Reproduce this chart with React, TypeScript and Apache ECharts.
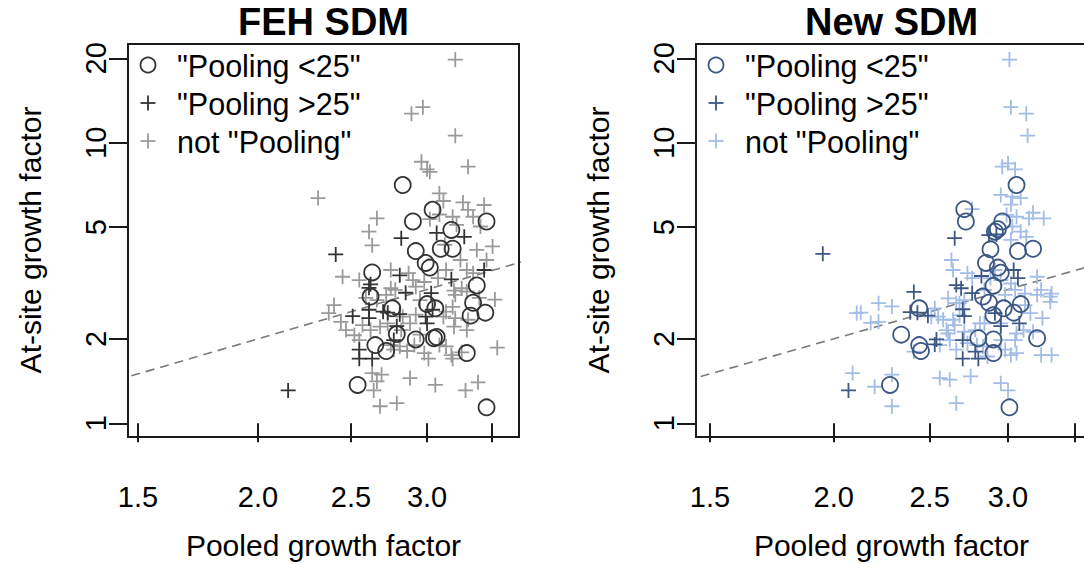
import React, { useEffect, useRef } from "react";
import * as echarts from "echarts";

const FONT = '"Liberation Sans", Arial, Helvetica, sans-serif';

// Each point: [pooled growth factor, at-site growth factor]
const fehPoolingUnder25: number[][] = [
  [2.83, 7.07], [3.04, 5.77], [2.9, 5.24], [3.46, 5.24], [3.18, 4.89], [2.92, 4.11], [3.1, 4.19],
  [3.19, 4.19], [2.99, 3.73], [3.02, 3.59], [2.63, 3.45], [3.38, 3.1], [2.62, 2.83], [2.76, 2.57],
  [3.0, 2.66], [3.06, 2.57], [3.35, 2.69], [3.33, 2.42], [3.45, 2.48], [2.79, 2.08], [2.92, 1.99],
  [3.05, 2.01], [3.07, 2.03], [2.65, 1.9], [2.72, 1.81], [3.3, 1.78], [2.54, 1.37], [3.46, 1.14],
];

const fehPoolingOver25: number[][] = [
  [2.41, 4.0], [2.82, 4.57], [3.07, 4.77], [3.28, 4.62], [3.44, 3.52], [3.18, 3.26], [2.81, 3.37],
  [2.85, 2.92], [2.62, 3.13], [2.61, 3.04], [3.03, 2.91], [2.51, 2.41], [2.61, 2.54], [2.61, 2.37],
  [2.7, 2.5], [2.73, 2.48], [3.04, 2.54], [3.0, 2.27], [2.79, 2.22], [2.77, 1.98], [2.55, 1.83],
  [2.55, 1.7], [2.63, 1.7], [2.15, 1.31], [2.81, 2.45], [2.99, 2.4],
];

const fehNotPooling: number[][] = [
  [3.21, 19.8], [2.89, 12.7], [2.97, 13.4], [3.21, 10.6], [2.96, 8.56], [3.0, 8.04], [3.02, 7.88],
  [3.31, 8.22], [2.31, 6.35], [3.09, 6.6], [3.12, 6.2], [3.27, 6.13], [3.31, 5.77], [2.66, 5.38],
  [2.61, 4.82], [2.63, 4.31], [3.19, 5.45], [3.02, 5.34], [3.35, 5.45], [3.41, 5.03], [3.51, 4.27],
  [3.46, 3.82], [3.25, 3.82], [3.3, 3.52], [3.14, 3.52], [3.35, 3.43], [2.45, 3.33], [2.55, 3.24],
  [2.75, 3.52], [2.87, 3.43], [2.9, 3.24], [2.75, 3.03], [2.92, 3.07], [3.2, 2.97], [3.21, 2.87],
  [3.26, 3.03], [3.3, 2.95], [3.53, 2.76], [3.19, 2.6], [3.14, 2.5], [2.37, 2.47], [2.44, 2.3],
  [2.47, 2.15], [2.52, 2.06], [2.68, 2.21], [2.73, 2.27], [2.83, 2.4], [2.82, 2.15], [2.88, 2.27],
  [2.92, 2.44], [2.66, 2.75], [3.12, 2.4], [3.3, 2.15], [3.2, 2.21], [3.21, 2.37], [2.81, 1.88],
  [2.86, 1.81], [2.98, 1.78], [3.01, 1.7], [3.09, 1.9], [3.14, 1.88], [3.18, 1.75], [3.19, 1.7],
  [3.26, 1.79], [3.55, 1.86], [2.77, 1.83], [2.63, 1.51], [2.69, 1.49], [2.66, 1.41], [2.88, 1.45],
  [3.06, 1.37], [3.39, 1.4], [3.29, 1.31], [2.64, 1.31], [2.68, 1.15], [2.79, 1.18], [2.4, 2.64],
  [2.57, 2.24], [2.55, 1.98], [2.59, 2.8], [2.72, 2.87], [2.78, 2.99], [2.95, 2.75], [2.98, 3.19],
  [3.08, 3.29], [3.4, 2.8], [3.31, 2.34], [2.91, 1.9], [2.95, 2.07], [2.62, 2.15], [2.75, 1.9],
  [3.38, 4.15], [3.13, 4.33], [3.22, 5.1], [3.44, 6.0], [3.09, 5.55],
];

const newPoolingUnder25: number[][] = [
  [3.06, 7.07], [2.71, 5.8], [2.72, 5.24], [2.96, 5.24], [2.93, 4.92], [2.91, 4.82], [2.88, 4.17],
  [3.07, 4.11], [3.18, 4.19], [2.85, 3.73], [2.93, 3.59], [2.95, 3.44], [2.9, 3.09], [2.83, 2.83],
  [2.87, 2.69], [2.97, 2.57], [3.09, 2.66], [3.04, 2.48], [2.9, 2.43], [2.44, 2.57], [2.34, 2.07],
  [2.44, 1.9], [2.45, 1.81], [2.8, 2.01], [2.9, 1.99], [2.9, 1.78], [3.21, 2.01], [2.28, 1.37],
  [3.01, 1.14],
];

const newPoolingOver25: number[][] = [
  [1.95, 4.02], [2.07, 1.31], [2.65, 4.57], [2.87, 4.69], [2.92, 4.71], [2.82, 3.35], [2.66, 3.11],
  [2.69, 3.03], [2.76, 2.91], [3.04, 3.52], [3.07, 3.29], [2.41, 2.94], [2.39, 2.49], [2.43, 2.48],
  [2.49, 2.42], [2.7, 2.55], [2.71, 2.41], [2.91, 2.47], [2.95, 2.22], [3.08, 2.27], [2.54, 1.99],
  [2.53, 1.91], [2.7, 1.98], [2.7, 1.7], [2.78, 1.8], [2.8, 1.7],
];

const newNotPooling: number[][] = [
  [3.01, 19.8], [3.02, 13.4], [3.13, 12.7], [3.14, 10.6], [2.96, 8.22], [3.0, 8.45], [3.05, 8.04],
  [2.95, 6.52], [3.03, 6.43], [3.09, 6.35], [3.02, 6.02], [2.76, 5.8], [3.18, 5.63], [3.26, 5.38],
  [3.15, 5.38], [3.06, 5.45], [2.99, 5.53], [3.03, 5.03], [3.09, 4.82], [3.13, 4.62], [3.02, 4.51],
  [2.63, 3.82], [2.64, 3.52], [2.73, 3.43], [2.76, 3.29], [2.88, 3.29], [3.02, 3.15], [3.05, 2.99],
  [3.12, 2.9], [3.21, 3.33], [3.24, 2.99], [3.32, 2.9], [3.31, 2.71], [2.61, 2.79], [2.66, 2.68],
  [2.11, 2.47], [2.22, 2.68], [2.29, 2.61], [2.18, 2.28], [2.22, 2.3], [2.53, 2.57], [2.55, 2.4],
  [2.64, 2.34], [2.6, 2.15], [2.62, 1.98], [2.66, 1.83], [2.71, 2.12], [2.81, 2.27], [2.78, 2.15],
  [3.16, 2.47], [3.11, 2.15], [3.18, 2.12], [2.83, 1.88], [3.02, 1.75], [3.06, 1.78], [3.24, 1.75],
  [3.32, 1.75], [2.98, 1.83], [2.56, 1.45], [2.62, 1.43], [2.75, 1.47], [2.95, 1.39], [3.0, 1.31],
  [2.66, 1.18], [2.09, 1.51], [2.2, 1.35], [2.29, 1.49], [2.29, 1.15], [2.41, 1.8], [2.86, 1.73],
  [3.21, 2.87], [3.31, 2.83], [2.95, 2.27], [2.84, 2.27], [2.79, 1.9], [2.68, 2.68], [2.51, 2.4],
  [2.61, 2.09], [2.73, 1.93], [3.06, 2.09], [2.13, 2.48], [2.91, 3.52], [2.95, 3.24], [2.98, 2.87],
  [2.84, 2.99], [2.68, 2.43], [2.58, 2.34], [3.12, 2.64], [3.25, 2.37], [2.95, 1.98], [2.65, 2.24],
  [3.05, 1.98], [2.56, 1.9], [2.71, 2.75],
];

const panelTitles = ["FEH SDM", "New SDM"];
const legendLabels = ['"Pooling <25"', '"Pooling >25"', 'not "Pooling"'];
const xTickValues = [1.5, 2, 2.5, 3, 3.5];
const xLabelValues = [1.5, 2, 2.5, 3];
const yTickValues = [1, 2, 5, 10, 20];
const xAxisTitle = "Pooled growth factor";
const yAxisTitle = "At-site growth factor";

const PLUS = "path://M0,5L10,5M5,0L5,10";

interface Panel {
  title: string;
  left: number;
  xMin: number;
  xMax: number;
  dark: string;
  light: string;
  under25: number[][];
  over25: number[][];
  notPooling: number[][];
}

const GRID_TOP = 44;
const GRID_W = 391;
const GRID_H = 393;
const Y_MIN = 0.8936;
const Y_MAX = 22.5;

const panels: Panel[] = [
  {
    title: panelTitles[0], left: 128, xMin: 1.4645, xMax: 3.74,
    dark: "#333333", light: "#9a9a9a",
    under25: fehPoolingUnder25, over25: fehPoolingOver25, notPooling: fehNotPooling,
  },
  {
    title: panelTitles[1], left: 696, xMin: 1.452, xMax: 3.605,
    dark: "#3c5784", light: "#a3bde6",
    under25: newPoolingUnder25, over25: newPoolingOver25, notPooling: newNotPooling,
  },
];

const toLn = (pts: number[][]) => pts.map(([x, y]) => [Math.log(x), Math.log(y)]);

export default function App() {
  const ref = useRef<HTMLDivElement>(null);

  useEffect(() => {
    if (!ref.current) return;
    const chart = echarts.init(ref.current, undefined, { renderer: "svg" });

    const grids = panels.map((p) => ({
      left: p.left, top: GRID_TOP, width: GRID_W, height: GRID_H,
      show: true, borderColor: "#1a1a1a", borderWidth: 2,
      backgroundColor: "transparent", outerBoundsMode: "none",
    }));

    const xAxes = panels.map((p, i) => ({
      type: "value", gridIndex: i,
      min: Math.log(p.xMin), max: Math.log(p.xMax),
      splitLine: { show: false },
      axisLine: { show: false },
      axisTick: {
        show: true, inside: false, customValues: xTickValues.map(Math.log), length: 19,
        lineStyle: { color: "#1a1a1a", width: 2 },
      },
      axisLabel: {
        customValues: xLabelValues.map(Math.log),
        formatter: (v: number) => Math.exp(v).toFixed(1),
        margin: 45, fontSize: 29, color: "#000", fontFamily: FONT,
      },
    }));

    const yAxes = panels.map((_, i) => ({
      type: "value", gridIndex: i,
      min: Math.log(Y_MIN), max: Math.log(Y_MAX),
      splitLine: { show: false },
      axisLine: { show: false },
      axisTick: {
        show: true, inside: false, customValues: yTickValues.map(Math.log), length: 19,
        lineStyle: { color: "#1a1a1a", width: 2 },
      },
      axisLabel: {
        customValues: yTickValues.map(Math.log),
        formatter: (v: number) => String(Math.round(Math.exp(v))),
        rotate: 90, margin: 18, fontSize: 29, color: "#000", fontFamily: FONT,
      },
    }));

    const series: any[] = [];
    panels.forEach((p, i) => {
      // 1:1 reference line
      series.push({
        type: "line", xAxisIndex: i, yAxisIndex: i, silent: true, clip: true,
        symbol: "none",
        data: [[Math.log(1.2), Math.log(1.2)], [Math.log(5), Math.log(5)]],
        lineStyle: { color: "#7a7a7a", width: 1.6, type: [9, 6] },
        z: 1,
      });
      series.push({
        type: "scatter", name: legendLabels[2], xAxisIndex: i, yAxisIndex: i,
        data: toLn(p.notPooling), symbol: PLUS, symbolSize: 15,
        itemStyle: { color: "transparent", borderColor: p.light, borderWidth: 1.8, opacity: 1 },
        z: 2,
      });
      series.push({
        type: "scatter", name: legendLabels[0], xAxisIndex: i, yAxisIndex: i,
        data: toLn(p.under25), symbol: "circle", symbolSize: 16,
        itemStyle: { color: "transparent", borderColor: p.dark, borderWidth: 1.8, opacity: 1 },
        z: 3,
      });
      series.push({
        type: "scatter", name: legendLabels[1], xAxisIndex: i, yAxisIndex: i,
        data: toLn(p.over25), symbol: PLUS, symbolSize: 15,
        itemStyle: { color: "transparent", borderColor: p.dark, borderWidth: 1.8, opacity: 1 },
        z: 4,
      });
    });

    const graphics: any[] = [];
    panels.forEach((p) => {
      const cx = p.left + GRID_W / 2;
      graphics.push({
        type: "text", x: cx, y: 22,
        style: {
          text: p.title, font: `bold 38px ${FONT}`, fill: "#000",
          textAlign: "center", textVerticalAlign: "middle",
        },
      });
      graphics.push({
        type: "text", x: cx, y: 545,
        style: {
          text: xAxisTitle, font: `30px ${FONT}`, fill: "#000",
          textAlign: "center", textVerticalAlign: "middle",
        },
      });
      graphics.push({
        type: "text", x: p.left - 98, y: 240, rotation: Math.PI / 2,
        style: {
          text: yAxisTitle, font: `30px ${FONT}`, fill: "#000",
          textAlign: "center", textVerticalAlign: "middle",
        },
      });
      // legend
      const sx = p.left + 20;
      const tx = p.left + 49;
      const rows = [65, 103, 141];
      graphics.push({
        type: "circle", shape: { cx: sx, cy: rows[0], r: 7.5 },
        style: { fill: "none", stroke: p.dark, lineWidth: 1.8 },
      });
      [1, 2].forEach((k) => {
        const col = k === 1 ? p.dark : p.light;
        graphics.push({
          type: "line", shape: { x1: sx - 7.5, y1: rows[k], x2: sx + 7.5, y2: rows[k] },
          style: { stroke: col, lineWidth: 1.8 },
        });
        graphics.push({
          type: "line", shape: { x1: sx, y1: rows[k] - 7.5, x2: sx, y2: rows[k] + 7.5 },
          style: { stroke: col, lineWidth: 1.8 },
        });
      });
      legendLabels.forEach((lab, k) => {
        graphics.push({
          type: "text", x: tx, y: rows[k] + 1,
          style: {
            text: lab, font: `30.5px ${FONT}`, fill: "#000",
            textAlign: "left", textVerticalAlign: "middle",
          },
        });
      });
    });

    chart.setOption({
      animation: false,
      backgroundColor: "#ffffff",
      textStyle: { fontFamily: FONT },
      grid: grids,
      xAxis: xAxes,
      yAxis: yAxes,
      series,
      graphic: graphics,
    });

    return () => chart.dispose();
  }, []);

  return (
    <div
      ref={ref}
      style={{ position: "absolute", left: 0, top: 0, width: 1084, height: 564 }}
    />
  );
}
